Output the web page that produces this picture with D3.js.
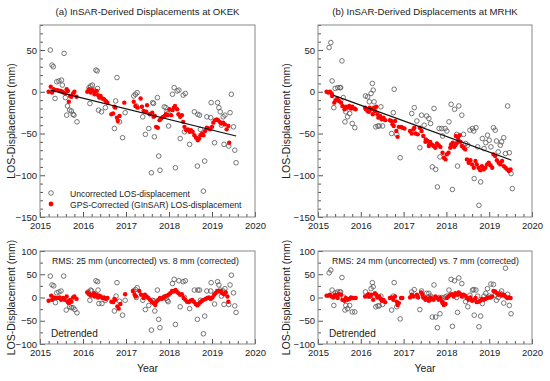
<!DOCTYPE html>
<html>
<head>
<meta charset="utf-8">
<script src="https://cdn.jsdelivr.net/npm/d3@7"></script>
<style>
body { margin: 0; background: #fff; }
text { font-family: Arial, "Liberation Sans", sans-serif; fill: #222; }
</style>
</head>
<body>
<div id="chart"></div>
<script>
// ---- data (year, mm) ----
var uncA = [[2015.24,50],[2015.28,32],[2015.31,30],[2015.35,-8],[2015.39,12],[2015.44,13],[2015.50,14],[2015.52,8],[2015.56,46],[2015.59,-7],[2015.62,-28],[2015.64,-17],[2015.69,-22],[2015.73,-23],[2015.77,-27],[2015.79,-28],[2015.86,-36],
  [2016.14,5],[2016.16,-14],[2016.18,7],[2016.22,8],[2016.25,2],[2016.30,26],[2016.33,25],[2016.34,4],[2016.36,-22],[2016.43,-24],[2016.52,-19],
  [2016.73,-44],[2016.76,-11],[2016.79,17],[2016.85,-36],[2016.92,-55],[2016.98,-25],
  [2017.18,-5],[2017.22,-3],[2017.24,-17],[2017.26,-1],[2017.39,-30],[2017.45,-51],[2017.53,-44],[2017.59,-97],[2017.62,-13],[2017.64,-14],[2017.66,-54],[2017.73,-7],[2017.76,-77],[2017.79,-94],[2017.89,-18],[2017.93,-19],[2017.95,-24],[2017.98,-26],[2017.99,-41],
  [2018.08,-3],[2018.12,5],[2018.15,-91],[2018.19,1],[2018.23,2],[2018.26,-56],[2018.33,-4],[2018.36,-48],[2018.38,-2],[2018.48,-63],[2018.59,-24],[2018.66,-89],[2018.67,-27],[2018.71,-28],[2018.73,-45],[2018.80,-119],[2018.83,-83],[2018.88,-30],[2018.97,-31],[2018.98,-13],
  [2019.06,-61],[2019.13,-13],[2019.16,-19],[2019.19,-24],[2019.22,-40],[2019.26,-30],[2019.28,-63],[2019.30,-28],[2019.39,-65],[2019.42,-25],[2019.45,-3],[2019.50,-42],[2019.53,-70],[2019.56,-85]];

var corA = [[2015.20,0],[2015.25,6],[2015.28,-1],[2015.32,3],[2015.36,2],[2015.41,2],[2015.46,1],[2015.48,1],[2015.52,0],[2015.55,-1],[2015.59,-2],[2015.62,3],[2015.65,1],[2015.67,-12],[2015.70,-5],[2015.73,-6],[2015.77,-2],[2015.80,0],[2015.85,-6],
  [2016.10,0],[2016.14,3],[2016.18,-1],[2016.22,2],[2016.26,0],[2016.27,-3],[2016.32,1],[2016.35,-4],[2016.38,-7],[2016.41,-5],[2016.45,-8],[2016.49,-9],[2016.53,-11],[2016.57,-13],
  [2016.66,-27],[2016.70,-26],[2016.73,-18],[2016.75,-19],[2016.79,-31],[2016.81,-35],[2016.85,-29],[2016.96,-13],
  [2017.18,-12],[2017.22,-17],[2017.27,-19],[2017.34,-8],[2017.37,-18],[2017.41,-23],[2017.47,-24],[2017.49,-16],[2017.55,-27],[2017.61,-25],[2017.64,-30],[2017.67,-29],[2017.70,-42],[2017.74,-43],[2017.78,-34],[2017.82,-32],[2017.86,-30],[2017.90,-29],[2017.93,-27],[2017.97,-28],
  [2018.01,-21],[2018.05,-28],[2018.08,-22],[2018.11,-19],[2018.14,-17],[2018.19,-21],[2018.22,-27],[2018.26,-30],[2018.30,-28],[2018.33,-36],[2018.36,-42],[2018.40,-46],[2018.44,-45],[2018.48,-48],[2018.51,-46],[2018.55,-48],[2018.59,-52],[2018.63,-55],[2018.67,-58],[2018.70,-56],[2018.73,-52],[2018.77,-50],[2018.80,-52],[2018.84,-47],[2018.88,-43],[2018.92,-44],[2018.96,-45],
  [2019.00,-42],[2019.03,-37],[2019.07,-34],[2019.11,-33],[2019.14,-34],[2019.18,-36],[2019.22,-38],[2019.26,-37],[2019.30,-39],[2019.34,-45],[2019.38,-41],[2019.40,-61]];

var trendA = [[2015.24,2],[2019.56,-53]];

var uncB = [[2015.26,53],[2015.30,59],[2015.33,13],[2015.37,-19],[2015.40,4],[2015.46,5],[2015.51,5],[2015.53,5],[2015.56,37],[2015.59,-7],[2015.63,-36],[2015.65,-24],[2015.69,-30],[2015.74,-26],[2015.80,-38],[2015.86,-43],
  [2016.11,-5],[2016.16,-6],[2016.20,-12],[2016.24,-2],[2016.27,10],[2016.29,2],[2016.31,-12],[2016.35,-42],[2016.40,-41],[2016.43,-41],[2016.47,-18],[2016.51,-41],
  [2016.72,-50],[2016.76,-25],[2016.78,3],[2016.84,-51],[2016.92,-79],
  [2017.19,-26],[2017.25,-19],[2017.31,-35],[2017.38,-67],[2017.42,-28],[2017.48,-40],[2017.54,-29],[2017.59,-32],[2017.63,-38],[2017.67,-90],[2017.71,-20],[2017.75,-93],[2017.79,-114],[2017.83,-44],[2017.85,-78],[2017.89,-44],[2017.91,-53],[2017.97,-44],
  [2018.01,-47],[2018.06,-36],[2018.11,-15],[2018.14,-117],[2018.19,-21],[2018.24,-51],[2018.26,-89],[2018.29,-17],[2018.36,-28],[2018.40,-51],[2018.45,-62],[2018.50,-64],[2018.55,-46],[2018.61,-44],[2018.64,-47],[2018.65,-104],[2018.69,-43],[2018.73,-66],[2018.76,-136],[2018.80,-108],[2018.84,-56],[2018.88,-68],[2018.92,-61],[2018.96,-52],
  [2019.00,-58],[2019.04,-66],[2019.10,-43],[2019.14,-46],[2019.17,-59],[2019.21,-72],[2019.26,-64],[2019.29,-60],[2019.34,-55],[2019.38,-74],[2019.43,-17],[2019.47,-73],[2019.51,-98],[2019.54,-116]];

var corB = [[2015.20,0],[2015.24,-1],[2015.28,0],[2015.32,-2],[2015.33,-5],[2015.38,-13],[2015.41,-10],[2015.45,-8],[2015.49,-11],[2015.54,-13],[2015.57,-17],[2015.62,-21],[2015.65,-18],[2015.69,-19],[2015.73,-17],[2015.77,-20],[2015.80,-18],[2015.85,-20],[2015.88,-21],
  [2016.10,-19],[2016.12,-21],[2016.16,-23],[2016.19,-24],[2016.21,-19],[2016.25,-21],[2016.28,-27],[2016.31,-19],[2016.33,-23],[2016.36,-18],[2016.39,-27],[2016.41,-31],[2016.45,-29],[2016.49,-33],[2016.53,-31],[2016.57,-34],
  [2016.68,-34],[2016.71,-35],[2016.74,-39],[2016.77,-41],[2016.80,-35],[2016.83,-47],[2016.86,-54],[2016.89,-42],[2016.94,-42],[2016.97,-43],[2017.02,-44],
  [2017.15,-47],[2017.19,-50],[2017.23,-45],[2017.25,-43],[2017.28,-50],[2017.33,-51],[2017.38,-43],[2017.42,-47],[2017.46,-53],[2017.51,-60],[2017.52,-57],[2017.56,-59],[2017.59,-65],[2017.60,-63],[2017.62,-60],[2017.66,-63],[2017.70,-65],[2017.74,-67],[2017.78,-62],[2017.82,-64],[2017.86,-66],[2017.91,-73],[2017.94,-79],[2017.98,-81],
  [2018.01,-75],[2018.05,-73],[2018.09,-67],[2018.11,-63],[2018.15,-61],[2018.18,-66],[2018.21,-64],[2018.22,-53],[2018.25,-61],[2018.27,-55],[2018.29,-59],[2018.31,-52],[2018.33,-60],[2018.36,-65],[2018.40,-67],[2018.44,-69],[2018.48,-81],[2018.52,-85],[2018.56,-82],[2018.60,-87],[2018.64,-91],[2018.68,-83],[2018.71,-87],[2018.75,-91],[2018.79,-94],[2018.83,-89],[2018.87,-93],[2018.91,-91],[2018.95,-87],[2018.99,-85],
  [2019.03,-88],[2019.07,-91],[2019.10,-75],[2019.14,-77],[2019.18,-82],[2019.22,-85],[2019.26,-87],[2019.30,-83],[2019.34,-89],[2019.38,-91],[2019.42,-93],[2019.46,-95],[2019.50,-93]];

var trendB = [[2015.35,-4],[2019.52,-82]];

// detrended series (lower panels)
var detUncA = [[2015.24,46],[2015.28,27],[2015.32,25],[2015.36,-11],[2015.39,10],[2015.44,12],[2015.49,14],[2015.55,46],[2015.61,-27],[2015.65,-9],[2015.69,-20],[2015.73,-22],[2015.77,-22],[2015.81,-26],[2015.86,-33],
  [2016.12,12],[2016.16,-6],[2016.18,16],[2016.20,14],[2016.30,36],[2016.34,34],[2016.35,16],[2016.37,-13],[2016.44,-13],[2016.52,-6],
  [2016.73,-29],[2016.77,3],[2016.79,32],[2016.85,-8],[2016.92,-38],[2016.98,-6],
  [2017.18,14],[2017.22,17],[2017.24,0],[2017.26,21],[2017.39,-6],[2017.45,-26],[2017.53,-17],[2017.59,-70],[2017.61,-6],[2017.65,-7],[2017.67,-29],[2017.73,16],[2017.76,-47],[2017.79,-65],[2017.89,1],[2017.93,-2],[2017.96,-6],[2017.98,-9],
  [2018.08,30],[2018.12,39],[2018.15,-58],[2018.23,36],[2018.26,-20],[2018.33,34],[2018.36,0],[2018.38,36],[2018.48,-24],[2018.59,16],[2018.66,-47],[2018.67,16],[2018.71,16],[2018.73,-6],[2018.80,-78],[2018.83,-40],[2018.88,14],[2018.97,14],[2018.98,32],
  [2019.06,-14],[2019.13,34],[2019.16,27],[2019.19,16],[2019.22,3],[2019.26,14],[2019.28,-15],[2019.30,19],[2019.39,-15],[2019.42,27],[2019.45,48],[2019.50,10],[2019.53,-18],[2019.56,-32]];

var detCorA = [[2015.20,-7],[2015.26,4],[2015.28,-5],[2015.32,0],[2015.36,-1],[2015.41,-1],[2015.46,0],[2015.49,-5],[2015.54,-1],[2015.57,-5],[2015.62,2],[2015.65,-9],[2015.67,-12],[2015.70,-5],[2015.73,-9],[2015.77,0],[2015.80,2],[2015.85,-3],
  [2016.10,11],[2016.14,7],[2016.18,4],[2016.22,6],[2016.26,9],[2016.27,2],[2016.32,6],[2016.35,0],[2016.38,4],[2016.41,2],[2016.45,-1],[2016.49,0],[2016.53,-3],[2016.57,-1],
  [2016.66,-9],[2016.70,-10],[2016.73,-3],[2016.75,-5],[2016.80,-19],[2016.83,-24],[2016.87,-14],[2016.98,7],
  [2017.16,14],[2017.20,6],[2017.23,2],[2017.31,14],[2017.35,6],[2017.41,-1],[2017.44,6],[2017.48,2],[2017.52,-1],[2017.56,-5],[2017.60,-9],[2017.64,-12],[2017.68,-16],[2017.71,-9],[2017.75,-5],[2017.79,-1],[2017.83,-3],[2017.87,0],[2017.91,2],[2017.95,4],[2017.99,6],
  [2018.03,9],[2018.07,14],[2018.11,13],[2018.15,16],[2018.18,13],[2018.22,9],[2018.26,6],[2018.30,7],[2018.34,-1],[2018.38,-5],[2018.42,-9],[2018.46,-10],[2018.50,-7],[2018.54,-5],[2018.58,-9],[2018.62,-14],[2018.66,-17],[2018.69,-14],[2018.73,-10],[2018.77,-7],[2018.81,-5],[2018.85,-3],[2018.89,-1],[2018.93,0],[2018.97,-3],
  [2019.01,0],[2019.05,6],[2019.08,9],[2019.12,14],[2019.16,13],[2019.20,14],[2019.24,9],[2019.28,7],[2019.32,11],[2019.36,2],[2019.38,-9]];

var detUncB = [[2015.26,53],[2015.30,59],[2015.33,16],[2015.37,-17],[2015.40,10],[2015.46,12],[2015.51,12],[2015.53,12],[2015.56,43],[2015.60,1],[2015.63,-27],[2015.65,-17],[2015.69,-24],[2015.74,-17],[2015.80,-31],[2015.86,-31],
  [2016.11,12],[2016.16,3],[2016.20,3],[2016.24,19],[2016.27,32],[2016.29,23],[2016.31,3],[2016.35,-20],[2016.40,-18],[2016.43,-18],[2016.47,3],[2016.51,-15],
  [2016.72,-27],[2016.76,3],[2016.78,32],[2016.84,-20],[2016.92,-46],
  [2017.19,12],[2017.25,17],[2017.31,3],[2017.38,-26],[2017.42,14],[2017.48,0],[2017.54,9],[2017.59,9],[2017.63,3],[2017.67,-42],[2017.71,27],[2017.75,-42],[2017.79,-65],[2017.83,0],[2017.85,-35],[2017.89,0],[2017.91,-6],[2017.97,1],
  [2018.01,3],[2018.06,16],[2018.11,39],[2018.14,-62],[2018.19,36],[2018.24,0],[2018.26,-32],[2018.29,42],[2018.36,30],[2018.40,3],[2018.45,-9],[2018.50,-20],[2018.55,5],[2018.61,16],[2018.64,17],[2018.65,-38],[2018.69,16],[2018.73,3],[2018.76,-63],[2018.80,-40],[2018.84,-13],[2018.88,3],[2018.92,9],[2018.96,19],
  [2019.00,3],[2019.04,29],[2019.10,28],[2019.14,5],[2019.17,-6],[2019.21,0],[2019.26,9],[2019.29,14],[2019.34,-12],[2019.38,63],[2019.43,7],[2019.47,-17],[2019.51,-35]];

var detCorB = [[2015.20,4],[2015.24,4],[2015.28,6],[2015.32,2],[2015.36,0],[2015.40,6],[2015.44,2],[2015.46,-1],[2015.49,7],[2015.54,6],[2015.57,-5],[2015.62,-7],[2015.65,-1],[2015.69,-5],[2015.73,-3],[2015.77,0],[2015.80,-1],[2015.85,-1],[2015.88,-1],
  [2016.10,2],[2016.14,4],[2016.18,7],[2016.21,2],[2016.25,6],[2016.29,-5],[2016.33,9],[2016.36,6],[2016.39,0],[2016.43,2],[2016.46,-3],[2016.49,-7],[2016.53,-5],[2016.57,-10],
  [2016.68,-1],[2016.72,0],[2016.76,-5],[2016.80,2],[2016.84,-9],[2016.86,-16],[2016.89,-12],[2016.94,-1],[2016.97,-1],
  [2017.15,0],[2017.19,6],[2017.23,2],[2017.31,6],[2017.34,0],[2017.41,11],[2017.44,6],[2017.46,0],[2017.51,-5],[2017.52,-1],[2017.56,-3],[2017.59,-7],[2017.62,-5],[2017.63,0],[2017.66,-3],[2017.70,-5],[2017.74,2],[2017.78,-1],[2017.82,-5],[2017.86,-1],[2017.90,-9],[2017.91,-12],[2017.94,-16],[2017.98,-14],
  [2018.01,-1],[2018.05,2],[2018.09,6],[2018.13,7],[2018.17,2],[2018.21,9],[2018.25,6],[2018.29,11],[2018.33,7],[2018.36,2],[2018.40,6],[2018.44,4],[2018.48,-1],[2018.52,-5],[2018.56,0],[2018.60,-7],[2018.64,-5],[2018.68,-1],[2018.71,-10],[2018.75,-9],[2018.79,-7],[2018.83,-3],[2018.87,-5],[2018.91,-3],[2018.95,-1],[2018.99,0],
  [2019.03,0],[2019.07,2],[2019.10,14],[2019.14,13],[2019.18,9],[2019.22,6],[2019.26,7],[2019.30,4],[2019.34,6],[2019.38,2],[2019.42,-1],[2019.46,0],[2019.50,-1]];

var yearTicks = [2015, 2016, 2017, 2018, 2019, 2020];
var topTicks = [-150, -100, -50, 0, 50];
var botTicks = [-100, -50, 0, 50, 100];

var titles = ["(a) InSAR-Derived Displacements at OKEK", "(b) InSAR-Derived Displacements at MRHK"];
var rmsLabels = ["RMS: 25 mm (uncorrected) vs. 8 mm (corrected)", "RMS: 24 mm (uncorrected) vs. 7 mm (corrected)"];
var legendLabels = ["Uncorrected LOS-displacement", "GPS-Corrected (GInSAR) LOS-displacement"];

var W = 550, H = 381;
var svg = d3.select("#chart").append("svg")
    .attr("width", W)
    .attr("height", H);

function range(a, b, step) {
    var out = [];
    for (var v = a; v <= b + 1e-9; v += step) out.push(+v.toFixed(4));
    return out;
}

function drawPanel(opt) {
    var x = d3.scaleLinear().domain([2015, 2020]).range([opt.x0, opt.x1]);
    var y = d3.scaleLinear().domain(opt.ydom).range([opt.y1, opt.y0]);
    var g = svg.append("g");

    // minor ticks
    var minorX = range(2015, 2020, 0.2).filter(function (v) { return Math.abs(v - Math.round(v)) > 0.01; });
    g.append("g")
        .attr("transform", "translate(0," + opt.y1 + ")")
        .call(d3.axisBottom(x).tickValues(minorX).tickFormat("").tickSize(-3))
        .call(function (s) { s.select(".domain").remove(); s.selectAll("line").attr("stroke", "#555"); });
    var minorY = range(opt.ydom[0], opt.ydom[1], opt.minorStep).filter(function (v) { return opt.ticks.indexOf(v) < 0; });
    g.append("g")
        .attr("transform", "translate(" + opt.x0 + ",0)")
        .call(d3.axisLeft(y).tickValues(minorY).tickFormat("").tickSize(-3))
        .call(function (s) { s.select(".domain").remove(); s.selectAll("line").attr("stroke", "#555"); });

    // major ticks
    g.append("g")
        .attr("transform", "translate(0," + opt.y1 + ")")
        .call(d3.axisBottom(x).tickValues(yearTicks).tickFormat(d3.format("d")).tickSize(-5).tickPadding(5))
        .call(function (s) {
            s.select(".domain").remove();
            s.selectAll("line").attr("stroke", "#555");
            s.selectAll("text").attr("font-size", 9.5).attr("fill", "#222");
        });
    g.append("g")
        .attr("transform", "translate(" + opt.x0 + ",0)")
        .call(d3.axisLeft(y).tickValues(opt.ticks).tickSize(-5).tickPadding(3))
        .call(function (s) {
            s.select(".domain").remove();
            s.selectAll("line").attr("stroke", "#555");
            s.selectAll("text").attr("font-size", 9.5).attr("fill", "#222");
        });

    // frame
    g.append("rect")
        .attr("x", opt.x0).attr("y", opt.y0)
        .attr("width", opt.x1 - opt.x0).attr("height", opt.y1 - opt.y0)
        .attr("fill", "none").attr("stroke", "#888").attr("stroke-width", 1);

    var marks = g.append("g");

    marks.selectAll(".unc")
        .data(opt.unc)
      .enter().append("circle")
        .attr("class", "unc")
        .attr("cx", function (d) { return x(d[0]); })
        .attr("cy", function (d) { return y(d[1]); })
        .attr("r", 2.3)
        .attr("fill", "none")
        .attr("stroke", "#555")
        .attr("stroke-width", 0.8);

    marks.selectAll(".cor")
        .data(opt.cor)
      .enter().append("circle")
        .attr("class", "cor")
        .attr("cx", function (d) { return x(d[0]); })
        .attr("cy", function (d) { return y(d[1]); })
        .attr("r", 2.2)
        .attr("fill", "#ff0000");

    if (opt.trend) {
        marks.append("path")
            .datum(opt.trend)
            .attr("d", d3.line().x(function (d) { return x(d[0]); }).y(function (d) { return y(d[1]); }))
            .attr("stroke", "#111")
            .attr("stroke-width", 1.2)
            .attr("fill", "none");
    }

    // y label
    svg.append("text")
        .attr("transform", "translate(" + (opt.x0 - opt.labOff) + "," + ((opt.y0 + opt.y1) / 2) + ") rotate(-90)")
        .attr("text-anchor", "middle")
        .attr("font-size", 10.5)
        .text("LOS-Displacement (mm)");

    return { x: x, y: y, g: g };
}

var cols = [{ x0: 40, x1: 255, labOff: 25 }, { x0: 318, x1: 532, labOff: 28 }];
var series = [
    { unc: uncA, cor: corA, trend: trendA, dUnc: detUncA, dCor: detCorA },
    { unc: uncB, cor: corB, trend: trendB, dUnc: detUncB, dCor: detCorB }
];

cols.forEach(function (c, i) {
    var s = series[i];
    var top = drawPanel({ x0: c.x0, x1: c.x1, labOff: c.labOff, y0: 25, y1: 217, ydom: [-150, 80], ticks: topTicks, minorStep: 10,
        unc: s.unc, cor: s.cor, trend: s.trend });
    var bot = drawPanel({ x0: c.x0, x1: c.x1, labOff: c.labOff, y0: 251, y1: 344, ydom: [-100, 100], ticks: botTicks, minorStep: 25,
        unc: s.dUnc, cor: s.dCor, trend: null });

    svg.append("text")
        .attr("x", (c.x0 + c.x1) / 2).attr("y", 15)
        .attr("text-anchor", "middle").attr("font-size", 9.6)
        .text(titles[i]);

    svg.append("text")
        .attr("x", (c.x0 + c.x1) / 2).attr("y", 372)
        .attr("text-anchor", "middle").attr("font-size", 10.5)
        .text("Year");

    bot.g.append("text")
        .attr("x", c.x0 + (i === 0 ? 12 : 14)).attr("y", 264)
        .attr("font-size", 8.7)
        .text(rmsLabels[i]);

    bot.g.append("text")
        .attr("x", c.x0 + 11).attr("y", 337)
        .attr("font-size", 10)
        .text("Detrended");

    if (i === 0) {
        var lg = top.g.append("g");
        lg.append("circle").attr("cx", c.x0 + 11).attr("cy", 193).attr("r", 2.3)
            .attr("fill", "none").attr("stroke", "#555").attr("stroke-width", 0.8);
        lg.append("circle").attr("cx", c.x0 + 11).attr("cy", 204).attr("r", 2.4).attr("fill", "#ff0000");
        lg.append("text").attr("x", c.x0 + 30).attr("y", 196.5).attr("font-size", 8.6).text(legendLabels[0]);
        lg.append("text").attr("x", c.x0 + 30).attr("y", 207.5).attr("font-size", 8.6).text(legendLabels[1]);
    }
});
</script>
</body>
</html>
